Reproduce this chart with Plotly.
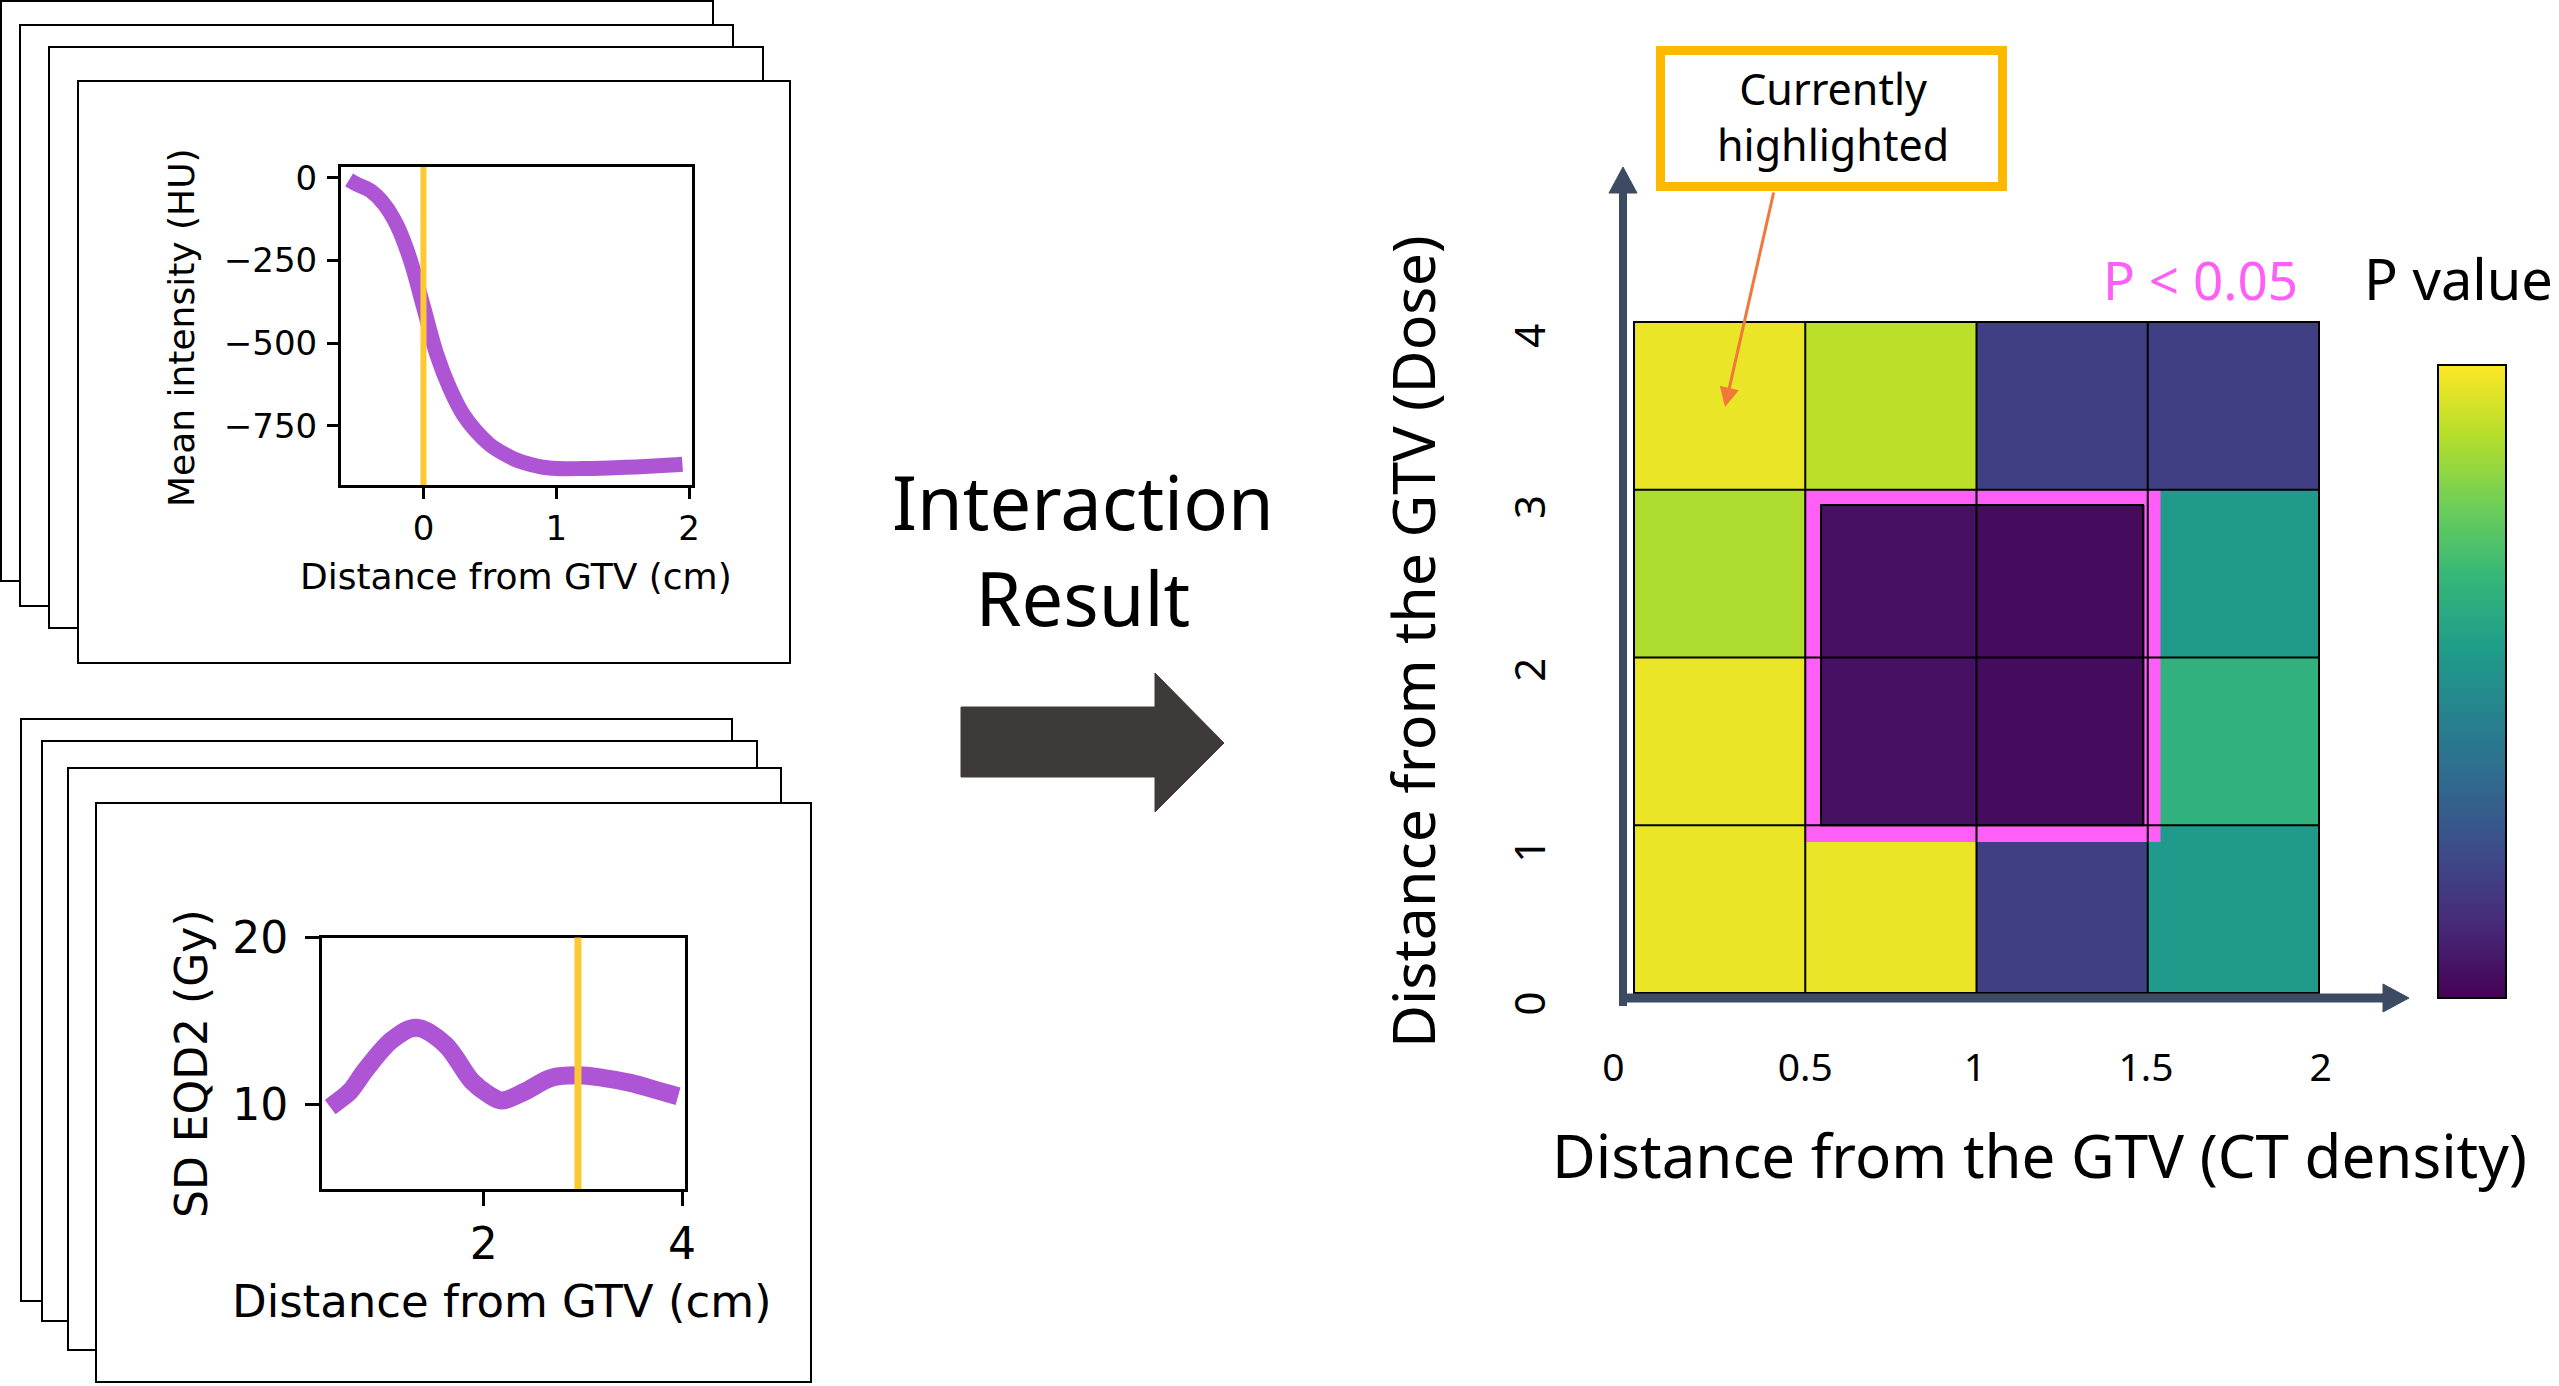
import plotly.graph_objects as go

W, H = 2559, 1386

# ---------------- data ----------------
# CT mean intensity profile (HU) vs distance from GTV (cm)
ct_dist = [-0.56, -0.5, -0.4, -0.3, -0.2, -0.1, 0.0, 0.1, 0.2, 0.3, 0.4, 0.5, 0.6,
           0.7, 0.8, 0.9, 1.0, 1.2, 1.4, 1.6, 1.8, 1.95]
ct_hu = [-6, -20, -39, -78, -143, -247, -390, -534, -638, -716, -768, -807, -833,
         -853, -866, -875, -879, -879, -877, -874, -870, -866]
ct_selected = 0.0
ct_xticks = [0, 1, 2]
ct_yticks = [0, -250, -500, -750]

# SD EQD2 (Gy) vs distance from GTV (cm)
dose_dist = [0.45, 0.55, 0.65, 0.81, 1.08, 1.32, 1.61, 1.88, 2.05, 2.18, 2.42, 2.68,
             2.95, 3.2, 3.48, 3.75, 3.96]
dose_sd = [9.85, 10.3, 10.8, 12.1, 13.9, 14.6, 13.6, 11.4, 10.6, 10.25, 10.8, 11.6,
           11.75, 11.6, 11.3, 10.85, 10.5]
dose_selected = 2.95
dose_xticks = [2, 4]
dose_yticks = [10, 20]

# Interaction P-value map (colour scaled 0..1, viridis)
ct_bins = [0.25, 0.75, 1.25, 1.75]
dose_bins = [0.5, 1.5, 2.5, 3.5]
p_map = [
    [0.97, 0.97, 0.19, 0.54],   # dose 0-1
    [0.97, 0.045, 0.03, 0.64],  # dose 1-2
    [0.88, 0.045, 0.03, 0.54],  # dose 2-3
    [0.97, 0.90, 0.19, 0.19],   # dose 3-4
]
map_xtick_vals = [-0.06, 0.5, 0.995, 1.495, 2.005]
map_xtick_text = ["0", "0.5", "1", "1.5", "2"]
map_ytick_vals = [-0.10, 0.81, 1.89, 2.86, 3.88]
map_ytick_text = ["0", "1", "2", "3", "4"]
sig_region = dict(x0=0.521, x1=1.514, y0=0.948, y1=2.957)

# ---------------- helpers ----------------
def fx(p):
    return p / W


def fy(p):
    return 1 - p / H


PURPLE = "#AE55D6"
YELLOW = "#FCC932"
MAGENTA = "#FF5EF7"
SLATE = "#3C4A62"
MPL = "DejaVu Sans"
JP = "Noto Sans"

fig = go.Figure()

fig.add_trace(go.Scatter(x=ct_dist, y=ct_hu, mode="lines", xaxis="x", yaxis="y",
                         line=dict(color=PURPLE, width=15, shape="spline"),
                         hoverinfo="skip"))
fig.add_trace(go.Scatter(x=dose_dist, y=dose_sd, mode="lines", xaxis="x2", yaxis="y2",
                         line=dict(color=PURPLE, width=18, shape="spline"),
                         hoverinfo="skip"))
fig.add_trace(go.Heatmap(
    x=ct_bins, y=dose_bins, z=p_map, xaxis="x3", yaxis="y3",
    colorscale="Viridis", zmin=0, zmax=1, hoverinfo="skip",
    colorbar=dict(
        x=fx(2438), xanchor="left", y=fy(998), yanchor="bottom",
        thickness=68, thicknessmode="pixels", len=633, lenmode="pixels",
        xpad=0, ypad=0, outlinewidth=2, outlinecolor="black",
        showticklabels=False, ticks="", borderwidth=0,
    ),
))

left_axis = dict(showline=True, linewidth=3, linecolor="black", mirror=True,
                 ticks="outside", tickwidth=3, tickcolor="black",
                 showgrid=False, zeroline=False)

layout = dict(
    width=W, height=H, margin=dict(l=0, r=0, t=0, b=0, autoexpand=False),
    paper_bgcolor="white", plot_bgcolor="rgba(0,0,0,0)", showlegend=False,
    font=dict(family=JP, color="black"),
    xaxis=dict(domain=[fx(341), fx(692)], anchor="y", range=[-0.621, 2.022],
               tickvals=ct_xticks, ticklen=11, ticklabelstandoff=0,
               tickfont=dict(family=MPL, size=34), **left_axis),
    yaxis=dict(domain=[fy(485), fy(167)], anchor="x", range=[-928.7, 32.6],
               tickvals=ct_yticks, ticklen=11, ticklabelstandoff=3,
               tickfont=dict(family=MPL, size=34), **left_axis),
    xaxis2=dict(domain=[fx(322), fx(685)], anchor="y2", range=[0.367, 4.03],
                tickvals=dose_xticks, ticklen=14, ticklabelstandoff=0,
                tickfont=dict(family=MPL, size=44), **left_axis),
    yaxis2=dict(domain=[fy(1189), fy(937.5)], anchor="x2", range=[4.95, 20],
                tickvals=dose_yticks, ticklen=14, ticklabelstandoff=8,
                tickfont=dict(family=MPL, size=44), **left_axis),
    xaxis3=dict(domain=[fx(1600), fx(2330)], anchor="y3",
                range=[-(1634 - 1600) / 342.5, 2 + 11 / 342.5],
                tickvals=map_xtick_vals, ticktext=map_xtick_text,
                showline=False, showgrid=False, zeroline=False, ticks="",
                ticklabelstandoff=21, tickfont=dict(family=JP, size=39)),
    yaxis3=dict(domain=[fy(1020), fy(312)], anchor="x3",
                range=[-(1020 - 993) / 167.75, 4 + 10 / 167.75],
                tickvals=map_ytick_vals, ticktext=map_ytick_text, tickangle=-90,
                showline=False, showgrid=False, zeroline=False, ticks="",
                ticklabelstandoff=46, tickfont=dict(family=JP, size=42)),
)

shapes = []
# stacked sheets behind the profile plots
top_stack = [(1, 1, 713, 581), (20, 25, 733, 606), (49, 47, 763, 628), (78, 81, 790, 663)]
bot_stack = [(21, 719, 732, 1301), (42, 741, 757, 1321), (68, 768, 781, 1350), (96, 803, 811, 1382)]
for (l, t, r, b) in top_stack + bot_stack:
    shapes.append(dict(type="rect", xref="paper", yref="paper", layer="below",
                       x0=fx(l), x1=fx(r), y0=fy(b), y1=fy(t),
                       line=dict(color="black", width=2), fillcolor="white"))

# selected-distance markers
shapes.append(dict(type="line", xref="x", yref="y domain", x0=ct_selected, x1=ct_selected,
                   y0=0, y1=1, line=dict(color=YELLOW, width=6)))
shapes.append(dict(type="line", xref="x2", yref="y2 domain", x0=dose_selected, x1=dose_selected,
                   y0=0, y1=1, line=dict(color=YELLOW, width=7)))

# significant region (P < 0.05)
shapes.append(dict(type="rect", xref="x3", yref="y3", **sig_region,
                   line=dict(color=MAGENTA, width=16)))
shapes.append(dict(type="rect", xref="x3", yref="y3", x0=0.546, x1=1.486, y0=1.0, y1=2.909,
                   line=dict(color="black", width=2)))
# cell grid
for xv in [0.5, 1.0, 1.5]:
    shapes.append(dict(type="line", xref="x3", yref="y3", x0=xv, x1=xv, y0=0, y1=4,
                       line=dict(color="black", width=2)))
for yv in [1, 2, 3]:
    shapes.append(dict(type="line", xref="x3", yref="y3", x0=0, x1=2, y0=yv, y1=yv,
                       line=dict(color="black", width=2)))
shapes.append(dict(type="rect", xref="x3", yref="y3", x0=0, x1=2, y0=0, y1=4,
                   line=dict(color="black", width=2)))

# axis arrows of the map
shapes.append(dict(type="line", xref="paper", yref="paper", x0=fx(1623), x1=fx(1623),
                   y0=fy(1006), y1=fy(188), line=dict(color=SLATE, width=8)))
shapes.append(dict(type="path", xref="paper", yref="paper",
                   path=f"M {fx(1609)},{fy(193)} L {fx(1637)},{fy(193)} L {fx(1623)},{fy(167)} Z",
                   fillcolor=SLATE, line=dict(color=SLATE, width=1)))
shapes.append(dict(type="line", xref="paper", yref="paper", x0=fx(1619), x1=fx(2386),
                   y0=fy(998), y1=fy(998), line=dict(color=SLATE, width=9)))
shapes.append(dict(type="path", xref="paper", yref="paper",
                   path=f"M {fx(2383)},{fy(984)} L {fx(2383)},{fy(1012)} L {fx(2409)},{fy(998)} Z",
                   fillcolor=SLATE, line=dict(color=SLATE, width=1)))

# "Currently highlighted" callout box
shapes.append(dict(type="rect", xref="paper", yref="paper", x0=fx(1660.5), x1=fx(2002.5),
                   y0=fy(186.5), y1=fy(50.5), line=dict(color="#FFB800", width=9),
                   fillcolor="white"))

# block arrow in the middle
shapes.append(dict(type="path", xref="paper", yref="paper",
                   path=(f"M {fx(961)},{fy(707)} L {fx(1155)},{fy(707)} L {fx(1155)},{fy(673)} "
                         f"L {fx(1224)},{fy(743)} L {fx(1155)},{fy(812)} L {fx(1155)},{fy(777)} "
                         f"L {fx(961)},{fy(777)} Z"),
                   fillcolor="#3E3A39", line=dict(color="#3E3A39", width=1)))

layout["shapes"] = shapes

ann = []
def text(x, y, s, size, family=JP, color="black", angle=0, xanchor="center"):
    ann.append(dict(x=fx(x), y=fy(y), xref="paper", yref="paper", text=s, showarrow=False,
                    font=dict(family=family, size=size, color=color), textangle=angle,
                    xanchor=xanchor, yanchor="middle"))

# left plot titles
text(516, 576, "Distance from GTV (cm)", 36, MPL)
text(181, 328, "Mean intensity (HU)", 36, MPL, angle=-90)
text(502, 1301, "Distance from GTV (cm)", 45, MPL)
text(191, 1064, "SD EQD2 (Gy)", 44, MPL, angle=-90)
# middle label
text(1083, 550, "Interaction<br>Result", 74)
# map texts
text(1833, 117, "Currently<br>highlighted", 43)
text(2200, 279, "P &lt; 0.05", 53, color=MAGENTA)
text(2362, 278, "P value", 56, xanchor="left")
text(2040, 1155, "Distance from the GTV (CT density)", 60)
text(1412, 642, "Distance from the GTV (Dose)", 59, angle=-90)

# callout arrow
ann.append(dict(x=fx(1725), y=fy(407), xref="paper", yref="paper", text="",
                showarrow=True, ax=49, ay=-216, arrowhead=2, arrowsize=1.3,
                arrowwidth=3, arrowcolor="#F2773A", standoff=0, startstandoff=0))
layout["annotations"] = ann

fig.update_layout(**layout)

fig.write_html("out.html", config={"displayModeBar": False},
               post_script="document.body.style.margin='0';document.body.style.overflow='hidden';")
